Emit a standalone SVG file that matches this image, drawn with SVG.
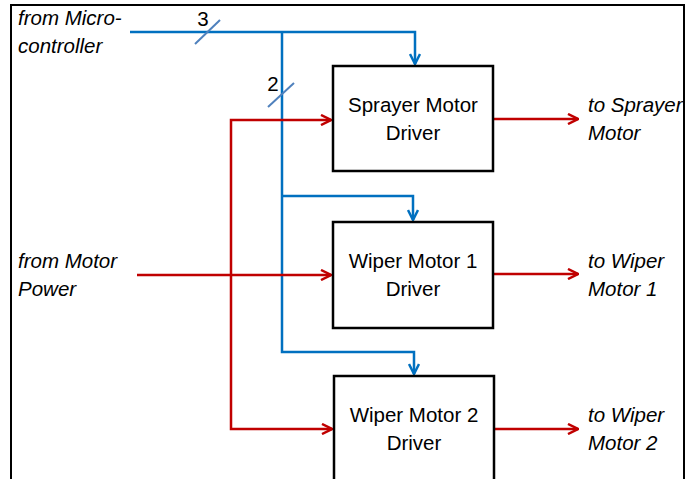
<svg xmlns="http://www.w3.org/2000/svg" width="686" height="479" viewBox="0 0 686 479">
<defs>
<style>
.box{fill:#fff;stroke:#000;stroke-width:2.5}
.lbl{font-family:"Liberation Sans",Arial,sans-serif;font-size:20.5px;fill:#000;text-anchor:middle}
.it{font-family:"Liberation Sans",Arial,sans-serif;font-size:20.5px;font-style:italic;fill:#000}
.blue{fill:none;stroke:#0070C0;stroke-width:2.5}
.red{fill:none;stroke:#C00000;stroke-width:2.5}
.slash{stroke:#4F81BD;stroke-width:2}
</style>
<marker id="ab" viewBox="0 0 12 12" refX="11" refY="6" markerWidth="12" markerHeight="12" markerUnits="userSpaceOnUse" orient="auto">
<polyline points="1,1 11,6 1,11" fill="none" stroke="#0070C0" stroke-width="2.5"/>
</marker>
<marker id="ar" viewBox="0 0 12 12" refX="11" refY="6" markerWidth="12" markerHeight="12" markerUnits="userSpaceOnUse" orient="auto">
<polyline points="1,1 11,6 1,11" fill="none" stroke="#C00000" stroke-width="2.5"/>
</marker>
</defs>
<rect x="0" y="0" width="686" height="479" fill="#fff"/>
<polyline points="11,479 11,5 684,5 684,479" fill="none" stroke="#000" stroke-width="2"/>
<g id="connectors">
<polyline class="blue" points="130,32 415,32 415,64" marker-end="url(#ab)"/>
<polyline class="blue" points="282,32 282,352 414,352 414,374" marker-end="url(#ab)"/>
<polyline class="blue" points="282,196 413,196 413,220" marker-end="url(#ab)"/>
<line class="slash" x1="195" y1="44" x2="220" y2="20"/>
<line class="slash" x1="268" y1="107" x2="294" y2="83"/>
<text class="lbl" x="203" y="26">3</text>
<text class="lbl" x="273" y="91">2</text>
<polyline class="red" points="231,275 231,120 331,120" marker-end="url(#ar)"/>
<polyline class="red" points="231,275 231,429 332,429" marker-end="url(#ar)"/>
<line class="red" x1="137" y1="275" x2="331" y2="275" marker-end="url(#ar)"/>
<line class="red" x1="493" y1="119" x2="578" y2="119" marker-end="url(#ar)"/>
<line class="red" x1="493" y1="274" x2="578" y2="274" marker-end="url(#ar)"/>
<line class="red" x1="494" y1="429" x2="578" y2="429" marker-end="url(#ar)"/>
</g>
<g id="sprayer">
<rect class="box" x="333" y="66" width="160" height="105"/>
<text class="lbl" x="413" y="112">Sprayer Motor</text>
<text class="lbl" x="413" y="140">Driver</text>
</g>
<g id="wiper1">
<rect class="box" x="333" y="222" width="160" height="106"/>
<text class="lbl" x="413" y="268">Wiper Motor 1</text>
<text class="lbl" x="413" y="296">Driver</text>
</g>
<g id="wiper2">
<rect class="box" x="334" y="376" width="160" height="110"/>
<text class="lbl" x="414" y="422">Wiper Motor 2</text>
<text class="lbl" x="414" y="450">Driver</text>
</g>
<g id="src-micro">
<text class="it" x="18" y="25">from Micro-</text>
<text class="it" x="18" y="53">controller</text>
</g>
<g id="src-power">
<text class="it" x="18" y="268">from Motor</text>
<text class="it" x="18" y="296">Power</text>
</g>
<g id="out-sprayer">
<text class="it" x="588" y="112">to Sprayer</text>
<text class="it" x="588" y="140">Motor</text>
</g>
<g id="out-wiper1">
<text class="it" x="588" y="268">to Wiper</text>
<text class="it" x="588" y="296">Motor 1</text>
</g>
<g id="out-wiper2">
<text class="it" x="588" y="422">to Wiper</text>
<text class="it" x="588" y="450">Motor 2</text>
</g>
</svg>
